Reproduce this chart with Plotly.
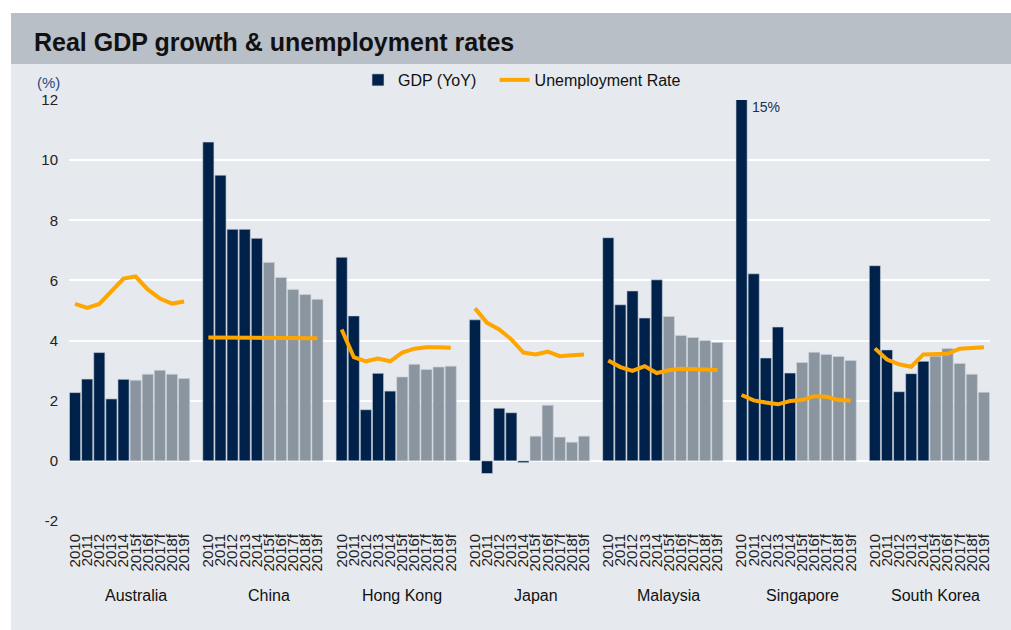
import plotly.graph_objects as go

countries = ["Australia", "China", "Hong Kong", "Japan", "Malaysia", "Singapore", "South Korea"]
years = ["2010", "2011", "2012", "2013", "2014", "2015f", "2016f", "2017f", "2018f", "2019f"]
y_ticks = [-2, 0, 2, 4, 6, 8, 10, 12]

gdp = {
    "Australia":   [2.27, 2.72, 3.60, 2.06, 2.71, 2.68, 2.88, 3.01, 2.88, 2.74],
    "China":       [10.6, 9.5, 7.7, 7.7, 7.4, 6.6, 6.1, 5.7, 5.53, 5.37],
    "Hong Kong":   [6.77, 4.82, 1.70, 2.91, 2.32, 2.79, 3.21, 3.04, 3.12, 3.15],
    "Japan":       [4.69, -0.42, 1.75, 1.60, -0.06, 0.82, 1.85, 0.79, 0.62, 0.82],
    "Malaysia":    [7.42, 5.19, 5.65, 4.75, 6.02, 4.80, 4.17, 4.10, 4.00, 3.94],
    "Singapore":   [15.0, 6.22, 3.42, 4.45, 2.92, 3.27, 3.61, 3.54, 3.47, 3.34],
    "South Korea": [6.49, 3.69, 2.30, 2.90, 3.31, 3.48, 3.74, 3.24, 2.88, 2.28],
}
unemp = {
    "Australia":   [5.22, 5.09, 5.22, 5.64, 6.06, 6.13, 5.70, 5.40, 5.23, 5.30],
    "China":       [4.10, 4.10, 4.10, 4.10, 4.10, 4.10, 4.10, 4.10, 4.10, 4.08],
    "Hong Kong":   [4.37, 3.45, 3.31, 3.40, 3.31, 3.60, 3.73, 3.78, 3.78, 3.76],
    "Japan":       [5.07, 4.59, 4.37, 4.04, 3.60, 3.54, 3.63, 3.48, 3.51, 3.54],
    "Malaysia":    [3.34, 3.12, 2.99, 3.15, 2.92, 3.01, 3.06, 3.06, 3.04, 3.02],
    "Singapore":   [2.19, 2.01, 1.94, 1.88, 1.99, 2.02, 2.15, 2.13, 2.02, 2.01],
    "South Korea": [3.74, 3.37, 3.21, 3.13, 3.54, 3.54, 3.56, 3.73, 3.75, 3.78],
}

NAVY = "#00214a"
GREY = "#8a959f"
ORANGE = "#ffa500"
LIGHT_BG = "#e6e9ee"
TITLE_BG = "#b9bfc7"
FONT = "Arial, Liberation Sans, sans-serif"

slot = len(years) + 1  # one empty slot between groups
bx, by, bc = [], [], []
lx, ly = [], []
tickvals, ticktext = [], []
for g, c in enumerate(countries):
    for i, yv in enumerate(years):
        pos = g * slot + i
        bx.append(pos)
        by.append(gdp[c][i])
        bc.append(GREY if yv.endswith("f") else NAVY)
        lx.append(pos)
        ly.append(unemp[c][i])
        tickvals.append(pos)
        ticktext.append(yv)
    lx.append(None)
    ly.append(None)

fig = go.Figure()
fig.add_trace(go.Bar(x=bx, y=by, name="GDP (YoY)\u00a0\u00a0\u00a0",
                     marker=dict(color=bc, line=dict(color="#cfd5dd", width=0.6))))
fig.add_trace(go.Scatter(x=lx, y=ly, mode="lines", name="Unemployment Rate",
                         line=dict(color=ORANGE, width=4), connectgaps=False))

# pixel geometry helpers (plot area 69..990 x, 100..521 y)
L, R, T, B = 69, 990, 100, 521
W, H = 1011, 630
def px(x):
    return (x - L) / (R - L)
def py(y):
    return (B - y) / (B - T)

shapes = [
    dict(type="rect", xref="paper", yref="paper", x0=px(11), x1=px(1020), y0=py(640), y1=py(64),
         fillcolor=LIGHT_BG, line=dict(width=0), layer="below"),
    dict(type="rect", xref="paper", yref="paper", x0=px(11), x1=px(1020), y0=py(64), y1=py(13),
         fillcolor=TITLE_BG, line=dict(width=0), layer="below"),
]

annotations = [
    dict(text="<b>Real GDP growth &amp; unemployment rates</b>", xref="paper", yref="paper",
         x=px(32), y=py(42), xanchor="left", yanchor="middle", showarrow=False,
         font=dict(family=FONT, size=25, color="#111111")),
    dict(text="(%)", xref="paper", yref="paper", x=px(48), y=py(82), xanchor="center",
         yanchor="middle", showarrow=False, font=dict(family=FONT, size=15, color="#2b4a80")),
    dict(text="15%", x=5 * slot, y=11.78, xref="x", yref="y", xanchor="left",
         yanchor="middle", xshift=8, showarrow=False, font=dict(family=FONT, size=14, color="#1a2f50")),
]
for g, c in enumerate(countries):
    annotations.append(dict(text=c, x=g * slot + (slot - 1) / 2, y=py(595), xref="x", yref="paper",
                            xanchor="center", yanchor="middle", showarrow=False,
                            font=dict(family=FONT, size=16, color="#111111")))

fig.update_layout(
    width=W, height=H,
    margin=dict(l=L, r=W - R, t=T, b=H - B, pad=0),
    paper_bgcolor="white",
    plot_bgcolor=LIGHT_BG,
    bargap=0.08,
    showlegend=True,
    legend=dict(orientation="h", x=px(358), y=py(80), xanchor="left", yanchor="middle",
                bgcolor="rgba(0,0,0,0)", font=dict(family=FONT, size=16, color="#111111"),
                itemwidth=30, traceorder="normal"),
    shapes=shapes,
    annotations=annotations,
    xaxis=dict(range=[-0.5, len(countries) * slot - 1.5], tickvals=tickvals, ticktext=ticktext,
               tickangle=-90, showgrid=False, zeroline=False, showline=False, ticks="",
               tickfont=dict(family=FONT, size=15, color="#222222"), ticklabelstandoff=9),
    yaxis=dict(range=[-2, 12], tickvals=y_ticks, ticktext=[str(v) for v in y_ticks],
               showgrid=True, gridcolor="white", gridwidth=1.5,
               zeroline=False, showline=False, ticks="",
               tickfont=dict(family=FONT, size=15, color="#222222"), ticklabelstandoff=10),
)

fig.write_html("out.html")
